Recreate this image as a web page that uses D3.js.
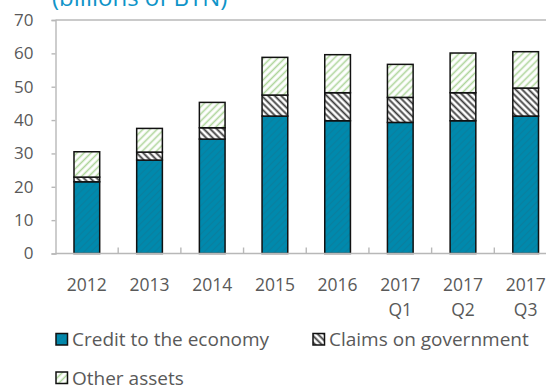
<!DOCTYPE html>
<html><head><meta charset="utf-8">
<script src="https://cdn.jsdelivr.net/npm/d3@7"></script>
<style>body{margin:0;background:#fff;overflow:hidden} svg{display:block} text{font-family:"Open Sans",sans-serif}</style>
</head><body><svg id="c" width="546" height="386"></svg>
<script>
const categories = ["2012","2013","2014","2015","2016","2017 Q1","2017 Q2","2017 Q3"];
const credit = [21.5, 28.0, 34.3, 41.2, 39.8, 39.3, 39.8, 41.2];
const claims = [1.4, 2.4, 3.4, 6.3, 8.4, 7.5, 8.4, 8.4];
const other  = [7.6, 7.1, 7.6, 11.3, 11.4, 9.9, 11.9, 10.9];
const seriesNames = ["Credit to the economy","Claims on government","Other assets"];
const yTicks = [0,10,20,30,40,50,60,70];
const title = "(billions of BTN)";

const svg = d3.select("#c");
const defs = svg.append("defs");
function stripes(id, angle, size, bg, color, sw){
  const p = defs.append("pattern").attr("id", id).attr("patternUnits","userSpaceOnUse")
    .attr("width", size).attr("height", size).attr("patternTransform", `rotate(${angle})`);
  p.append("rect").attr("width", size).attr("height", size).attr("fill", bg);
  p.append("line").attr("x1", size/2).attr("x2", size/2).attr("y1", 0).attr("y2", size)
    .attr("stroke", color).attr("stroke-width", sw);
}
stripes("pCredit", 45, 5, "#0089ad", "#0a7f9f", 1.2);
stripes("pClaims", -45, 4.6, "#ffffff", "#3a3a3a", 1.8);
stripes("pOther", 45, 5, "#ffffff", "#aed59a", 1.6);
const fills = ["url(#pCredit)","url(#pClaims)","url(#pOther)"];

const pLeft = 55.5, pTop = 20, pBottom = 253.5, pRight = 557;
const x = d3.scaleBand().domain(categories).range([pLeft, pRight]).paddingInner(0.59).paddingOuter(0.295);
const y = d3.scaleLinear().domain([0,70]).range([pBottom, pTop]);

const gray = "#b8b8b8", txt = "#595959";

// title
svg.append("text").attr("x", 52).attr("y", 5.5).attr("fill", "#0f94c8")
  .attr("font-size", 24).text(title);

// top border
svg.append("line").attr("x1", pLeft).attr("x2", pRight).attr("y1", y(70)).attr("y2", y(70))
  .attr("stroke", gray).attr("stroke-width", 1.4);

// y axis
const ya = svg.append("g").attr("transform", `translate(${pLeft},0)`)
  .call(d3.axisLeft(y).tickValues(yTicks).tickSize(4).tickPadding(18).tickFormat(d3.format("d")));
ya.select(".domain").attr("stroke", gray).attr("stroke-width", 1.4);
ya.selectAll(".tick line").attr("stroke", gray).attr("stroke-width", 1.4);
ya.selectAll(".tick text").attr("fill", txt).attr("font-size", 17).attr("font-family", "Open Sans");

// stacked bars
const rows = categories.map((c,i)=>({cat:c, s0:credit[i], s1:claims[i], s2:other[i]}));
const stack = d3.stack().keys(["s0","s1","s2"])(rows);
stack.forEach((layer, k) => {
  svg.append("g").selectAll("rect").data(layer).join("rect")
    .attr("x", d => x(d.data.cat)).attr("width", x.bandwidth())
    .attr("y", d => y(d[1])).attr("height", d => y(d[0]) - y(d[1]))
    .attr("fill", fills[k]).attr("stroke", "#111").attr("stroke-width", 1.5);
});

// x axis
svg.append("line").attr("x1", pLeft).attr("x2", pRight).attr("y1", pBottom).attr("y2", pBottom)
  .attr("stroke", gray).attr("stroke-width", 1.6);
const gap = (x.step() - x.bandwidth())/2;
const bounds = categories.slice(1).map(c => x(c) - gap);
svg.append("g").selectAll("line").data(bounds).join("line")
  .attr("x1", d=>d).attr("x2", d=>d).attr("y1", pBottom).attr("y2", pBottom-6)
  .attr("stroke", gray).attr("stroke-width", 1.4);
const xl = svg.append("g").selectAll("text").data(categories).join("text")
  .attr("x", d => x(d) + x.bandwidth()/2).attr("y", 291)
  .attr("text-anchor", "middle").attr("fill", txt).attr("font-size", 17.5);
xl.each(function(d){
  const parts = d.split(" ");
  d3.select(this).selectAll("tspan").data(parts).join("tspan")
    .attr("x", x(d) + x.bandwidth()/2).attr("dy", (p,i)=> i===0 ? 0 : 25).text(p=>p);
});

// legend
const legendPos = [[56, 346],[313, 346],[56, 384.5]];
seriesNames.forEach((name, k) => {
  const [lx, ly] = legendPos[k];
  svg.append("rect").attr("x", lx).attr("y", ly-12.5).attr("width", 11.5).attr("height", 11.5)
    .attr("fill", fills[k]).attr("stroke", "#111").attr("stroke-width", 1.5);
  svg.append("text").attr("x", lx + 16).attr("y", ly).attr("fill", txt)
    .attr("font-size", 19).text(name);
});
</script></body></html>
